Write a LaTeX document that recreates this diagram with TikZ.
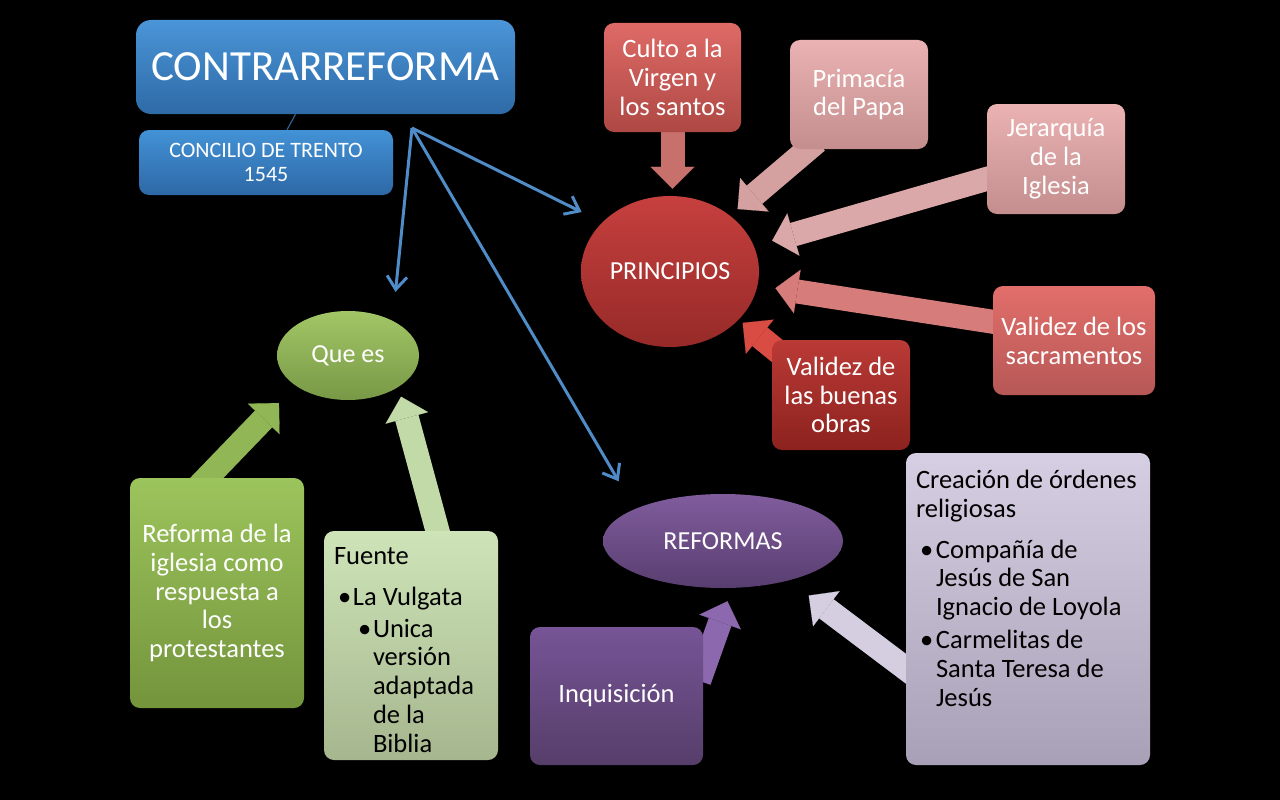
\documentclass[tikz,border=0pt]{standalone}
\usepackage{fontspec}
\setmainfont{Carlito}
\usepackage{xcolor}
\usepackage{tikz}
\usetikzlibrary{shapes.geometric,arrows.meta,backgrounds}

\definecolor{linkblue}{HTML}{4F8CC8}
\definecolor{stemblue}{HTML}{2F5F8F}

\begin{document}
\begin{tikzpicture}[x=1pt,y=-1pt,
  box/.style={rectangle,rounded corners=10pt,align=center,text=white,inner sep=0pt,
    font=\fontsize{26.5}{28.8}\selectfont},
  oval/.style={ellipse,inner sep=0pt,text=white,font=\fontsize{26}{30}\selectfont},
  blockarrow/.style={line width=24pt,shorten <=-12pt,
    -{Triangle[length=22pt,width=44pt,line width=0.1pt]}},
  link/.style={draw=linkblue,line width=3pt,-{Straight Barb[length=13pt,width=20pt]}}]
  \begin{scope}[on background layer]
    \fill[black] (0,0) rectangle (1280,800);
  \end{scope}
  \useasboundingbox (0,0) rectangle (1280,800);

  % title and council
  \node[box,rounded corners=15pt,minimum width=379pt,minimum height=94pt,
    font=\fontsize{43}{50}\selectfont,
    top color={rgb,255:red,74;green,149;blue,216},bottom color={rgb,255:red,46;green,106;blue,166}]
    (contra) at (325.5,67) {CONTRARREFORMA};
  \node[box,minimum width=254pt,minimum height=65pt,font=\fontsize{22}{24}\selectfont,
    top color={rgb,255:red,66;green,146;blue,214},bottom color={rgb,255:red,46;green,104;blue,166}]
    (conc) at (266,162.5) {CONCILIO DE TRENTO\\1545};
  \coordinate (hub) at (412,128);

  % principios
  \node[oval,minimum width=178pt,minimum height=151pt,
    top color={rgb,255:red,198;green,64;blue,62},bottom color={rgb,255:red,150;green,42;blue,40}]
    (princ) at (670,271.5) {PRINCIPIOS};
  \node[box,minimum width=137pt,minimum height=109pt,
    top color={rgb,255:red,222;green,106;blue,102},bottom color={rgb,255:red,174;green,72;blue,68}]
    (culto) at (672.5,77.5) {Culto a la\\Virgen y\\los santos};
  \node[box,minimum width=138pt,minimum height=109pt,
    top color={rgb,255:red,234;green,178;blue,178},bottom color={rgb,255:red,196;green,142;blue,142}]
    (prim) at (859,94.5) {Primacía\\del Papa};
  \node[box,minimum width=138pt,minimum height=110pt,
    top color={rgb,255:red,234;green,178;blue,178},bottom color={rgb,255:red,196;green,142;blue,142}]
    (jer) at (1056,159) {Jerarquía\\de la\\Iglesia};
  \node[box,minimum width=162pt,minimum height=109pt,
    top color={rgb,255:red,226;green,110;blue,106},bottom color={rgb,255:red,182;green,88;blue,86}]
    (sac) at (1074,340.5) {Validez de los\\sacramentos};
  \node[box,minimum width=138pt,minimum height=110pt,
    top color={rgb,255:red,186;green,58;blue,54},bottom color={rgb,255:red,140;green,34;blue,30}]
    (obras) at (841,395) {Validez de\\las buenas\\obras};

  % que es
  \node[oval,minimum width=142pt,minimum height=89pt,
    top color={rgb,255:red,162;green,198;blue,102},bottom color={rgb,255:red,120;green,152;blue,70}]
    (quees) at (348,355.5) {Que es};
  \node[box,minimum width=174pt,minimum height=230pt,
    top color={rgb,255:red,156;green,196;blue,92},bottom color={rgb,255:red,116;green,148;blue,60}]
    (reforma) at (217,593) {Reforma de la\\iglesia como\\respuesta a\\los\\protestantes};
  \node[box,minimum width=174pt,minimum height=229pt,text=black,
    top color={rgb,255:red,206;green,228;blue,184},bottom color={rgb,255:red,166;green,182;blue,142}]
    (fuente) at (411,645.5) {\parbox[c][196pt][t]{154pt}{\raggedright
      Fuente\\[12pt]
      \hspace*{4pt}\makebox[15pt][l]{\textbullet}La Vulgata\\[3pt]
      \hspace*{24pt}\makebox[15pt][l]{\textbullet}Unica\\
      \hspace*{39pt}versión\\
      \hspace*{39pt}adaptada\\
      \hspace*{39pt}de la\\
      \hspace*{39pt}Biblia}};

  % reformas
  \node[oval,minimum width=240pt,minimum height=94pt,
    top color={rgb,255:red,128;green,92;blue,156},bottom color={rgb,255:red,88;green,62;blue,112}]
    (reformas) at (723,541) {REFORMAS};
  \node[box,minimum width=173pt,minimum height=138pt,
    top color={rgb,255:red,118;green,84;blue,150},bottom color={rgb,255:red,86;green,62;blue,106}]
    (inq) at (616.5,696) {\raisebox{-4pt}{Inquisición}};
  \node[box,minimum width=244pt,minimum height=312pt,text=black,
    top color={rgb,255:red,214;green,206;blue,226},bottom color={rgb,255:red,168;green,160;blue,182}]
    (crea) at (1028,609) {\parbox[c][278pt][t]{224pt}{\raggedright
      Creación de órdenes\\
      religiosas\\[12pt]
      \hspace*{4pt}\makebox[16pt][l]{\textbullet}Compañía de\\
      \hspace*{20pt}Jesús de San\\
      \hspace*{20pt}Ignacio de Loyola\\[4pt]
      \hspace*{4pt}\makebox[16pt][l]{\textbullet}Carmelitas de\\
      \hspace*{20pt}Santa Teresa de\\
      \hspace*{20pt}Jesús}};

  % connectors
  \draw[stemblue,line width=1.2pt] ([xshift=-30pt]contra.south) -- ([xshift=21pt]conc.north);
  \draw[link,shorten >=29pt] (hub) -- (quees.38);
  \draw[link,shorten >=23pt] (hub) -- (princ.144);
  \draw[link,shorten >=32pt] (hub) -- (reformas.160);

  \begin{scope}[on background layer]
    \draw[blockarrow,draw={rgb,255:red,200;green,112;blue,108},shorten >=7pt]
      (culto.south) -- (culto.south |- princ.north);
    \draw[blockarrow,draw={rgb,255:red,212;green,160;blue,160},shorten >=10pt]
      (prim.227) -- (princ.43);
    \draw[blockarrow,draw={rgb,255:red,218;green,168;blue,168},shorten >=19pt]
      (jer.196) -- (princ.17);
    \draw[blockarrow,draw={rgb,255:red,214;green,124;blue,122},shorten >=18pt]
      (sac.167) -- (princ.-9);
    \draw[blockarrow,draw={rgb,255:red,216;green,76;blue,68},shorten >=5pt]
      (obras.145) -- (princ.-35);
    \draw[blockarrow,draw={rgb,255:red,144;green,182;blue,86},shorten >=24pt]
      (reforma.95) -- (quees.210);
    \draw[blockarrow,draw={rgb,255:red,194;green,218;blue,168},shorten >=10pt]
      (fuente.77) -- (quees.-32);
    \draw[blockarrow,draw={rgb,255:red,140;green,104;blue,174},shorten >=14pt]
      (inq.17) -- (reformas.-79);
    \draw[blockarrow,draw={rgb,255:red,212;green,206;blue,224},shorten >=25pt]
      (crea.206) -- (reformas.-31);
  \end{scope}
\end{tikzpicture}
\end{document}
